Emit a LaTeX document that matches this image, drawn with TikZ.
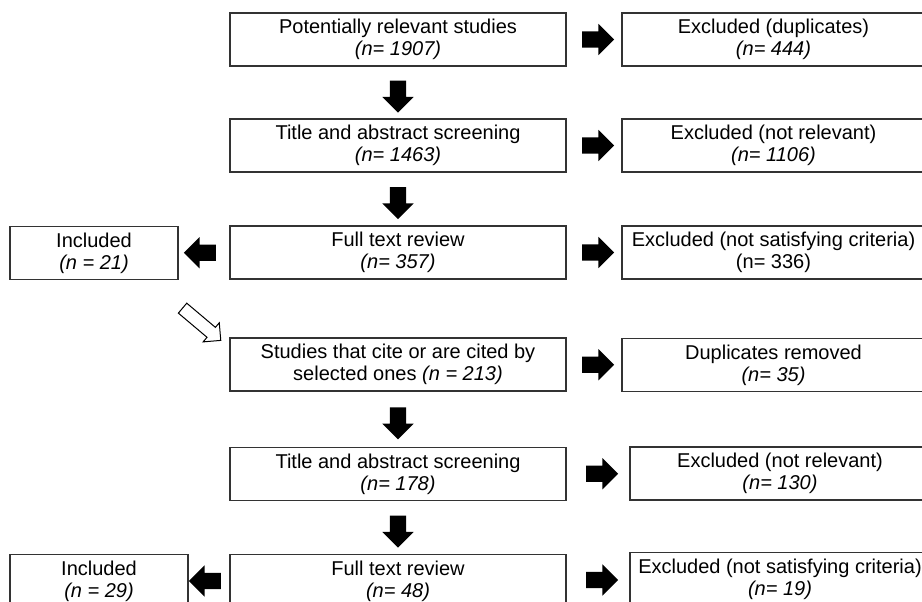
\documentclass[tikz,border=0pt]{standalone}
\usepackage{fontspec}
\setmainfont{Liberation Sans}
\usetikzlibrary{shapes.arrows, calc, positioning}
\tikzset{
  stagebox/.style={draw=black!80, line width=1.3pt, fill=white, inner sep=2pt, align=center,
    font=\fontsize{20}{22}\selectfont, minimum height=53pt},
  midbox/.style={stagebox, minimum width=336pt},
  exbox/.style={stagebox, minimum width=303pt},
  inbox/.style={stagebox, minimum width=168pt},
  blockarr/.style={single arrow, fill=black, draw=none, inner xsep=0pt, inner ysep=8pt,
    minimum height=32pt, single arrow head extend=7.5pt},
  rarr/.style={blockarr},
  larr/.style={blockarr, rotate=180},
  darr/.style={blockarr, rotate=-90},
  hollowarr/.style={single arrow, draw=black, line width=1pt, fill=white, inner xsep=0pt,
    inner ysep=6pt, minimum height=50pt, single arrow head extend=6pt},
}
\begin{document}
\begin{tikzpicture}[x=1pt, y=-1pt]
  \useasboundingbox (0,0) rectangle (922,602);
  \clip (0,0) rectangle (922,602);
  % first search
  \node[midbox] (rel) at (398,39.5) {Potentially relevant studies\\\textit{(n= 1907)}};
  \node[exbox] (dup) at (773.5,39.5) {Excluded (duplicates)\\\textit{(n= 444)}};
  \node[midbox] (tas) at (398,145.5) {Title and abstract screening\\\textit{(n= 1463)}};
  \node[exbox] (nrel) at (773.5,145.5) {Excluded (not relevant)\\\textit{(n= 1106)}};
  \node[midbox] (ftr) at (398,252.5) {Full text review\\\textit{(n= 357)}};
  \node[exbox] (nsat) at (773.5,252.5) {Excluded (not satisfying criteria)\\(n= 336)};
  \node[inbox] (inc) at (94,253) {Included\\\textit{(n = 21)}};
  % snowballing
  \node[midbox] (cit) at (398,364.5) {Studies that cite or are cited by\\selected ones \textit{(n = 213)}};
  \node[exbox] (cdup) at (773.5,365) {Duplicates removed\\\textit{(n= 35)}};
  \node[midbox] (ctas) at (398,474) {Title and abstract screening\\\textit{(n= 178)}};
  \node[exbox, minimum width=300pt] (cnrel) at (780,473.5) {Excluded (not relevant)\\\textit{(n= 130)}};
  \node[midbox] (cftr) at (398,581) {Full text review\\\textit{(n= 48)}};
  \node[exbox, minimum width=300pt] (cnsat) at (780,579) {Excluded (not satisfying criteria)\\\textit{(n= 19)}};
  \node[inbox, minimum width=178pt] (cinc) at (99,581) {Included\\\textit{(n = 29)}};
  % arrows
  \path (rel.east) -- node[rarr] {} (dup.west);
  \path (tas.east) -- node[rarr] {} (nrel.west);
  \path (ftr.east) -- node[rarr] {} (nsat.west);
  \path (ftr.west) -- node[larr] {} (inc.east);
  \path (rel.south) -- node[darr] {} (tas.north);
  \path (tas.south) -- node[darr] {} (ftr.north);
  \path (cit.east) -- node[rarr] {} (cdup.west);
  \path (ctas.east) -- node[rarr] {} (cnrel.west);
  \path (cftr.east) -- node[rarr] {} (cnsat.west);
  \path (cftr.west) -- node[larr] {} (cinc.east);
  \path (cit.south) -- node[darr] {} (ctas.north);
  \path (ctas.south) -- node[darr] {} (cftr.north);
  \coordinate (holtail) at (180,306);
  \coordinate (holtip) at ($(cit.north west)+(-11,1)$);
  \path (holtail) -- node[hollowarr, sloped] {} (holtip);
\end{tikzpicture}
\end{document}
